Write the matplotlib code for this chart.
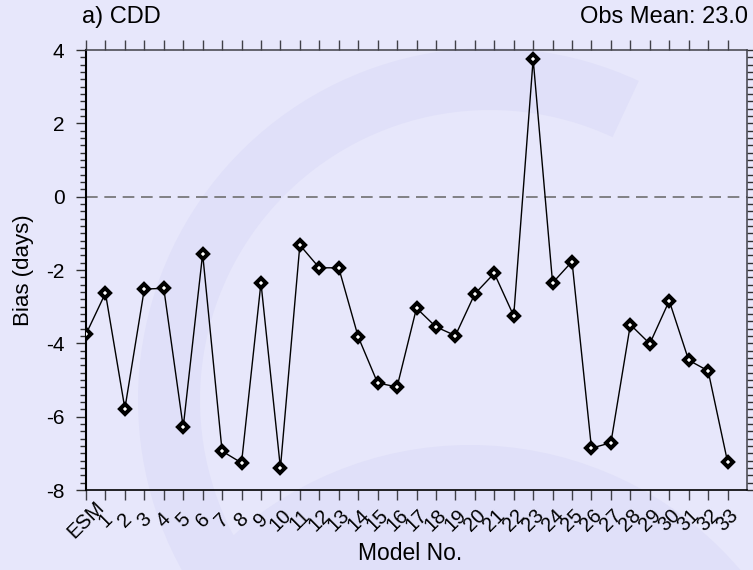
import numpy as np
import matplotlib
matplotlib.use('Agg')
import matplotlib.pyplot as plt
from matplotlib.ticker import MultipleLocator
from matplotlib.patches import Wedge, Circle
from matplotlib.transforms import IdentityTransform

plt.rcParams['font.family'] = ['Liberation Sans', 'DejaVu Sans']
plt.rcParams['axes.unicode_minus'] = False

# model labels and bias values (days)
models = ['ESM'] + [str(i) for i in range(1, 34)]
bias = [-3.75, -2.63, -5.78, -2.52, -2.50, -6.29, -1.56, -6.94, -7.26, -2.35,
        -7.40, -1.32, -1.94, -1.94, -3.82, -5.08, -5.19, -3.04, -3.55, -3.79,
        -2.65, -2.09, -3.25, 3.75, -2.35, -1.77, -6.86, -6.71, -3.49, -4.01,
        -2.84, -4.46, -4.75, -7.23]
obs_mean = 23.0

bg = '#e7e7fb'
shade = '#e0e0f9'
W, H = 753, 570
fig = plt.figure(figsize=(W / 100, H / 100), dpi=100, facecolor=bg)

# faint watermark in the background (pixel coords)
wm1 = Wedge((490, H - 400), 352, 65, 212, width=62, transform=IdentityTransform(),
            color=shade, lw=0, zorder=-10)
wm2 = Circle((470, H - 800), 355, transform=IdentityTransform(),
             color=shade, lw=0, zorder=-10)
fig.add_artist(wm1)
fig.add_artist(wm2)

ax = fig.add_axes([86 / W, 1 - 490 / H, 661 / W, 440 / H])
ax.patch.set_alpha(0)

x = np.arange(len(bias))
ax.axhline(0, color='#707070', lw=1.2, ls=(0, (7, 4)), zorder=1)
ax.plot(x, bias, color='black', lw=1, marker='D', ms=5.5, mfc='white',
        mec='black', mew=2.9, zorder=3)

ax.set_xlim(0, 34)
ax.set_ylim(-8, 4)
ax.set_xticks(x)
ax.set_xticklabels(models, rotation=45, ha='center', va='center',
                   rotation_mode='anchor', fontsize=14.5)
ax.yaxis.set_major_locator(MultipleLocator(2))
ax.yaxis.set_minor_locator(MultipleLocator(0.2))
ax.tick_params(axis='x', which='major', direction='out', length=7.5, width=1,
               color='#404048', top=True, bottom=True, pad=14)
ax.tick_params(axis='y', which='major', direction='out', length=7.5, width=1,
               color='#303030', left=True, right=True, labelsize=15, pad=8)
ax.tick_params(axis='y', which='minor', direction='out', length=4, width=1,
               color='#303030', left=True, right=True)
ax.spines['left'].set_linewidth(1.5)
ax.spines['bottom'].set_linewidth(1.2)
ax.spines['top'].set_linewidth(1.1)
ax.spines['top'].set_color('#404048')
ax.spines['right'].set_linewidth(1.1)
ax.spines['right'].set_color('#404048')

ax.set_ylabel('Bias (days)', fontsize=16, va='center')
ax.yaxis.set_label_coords((23 - 86) / 661, 0.5)
ax.set_xlabel('Model No.', fontsize=16.5, va='center')
ax.xaxis.set_label_coords(0.49, (490 - 553) / 440)
ax.text(-0.006, 1.075, 'a) CDD', transform=ax.transAxes, fontsize=17,
        ha='left', va='center')
ax.text(1.0015, 1.075, 'Obs Mean: %.1f' % obs_mean, transform=ax.transAxes,
        fontsize=17, ha='right', va='center')

fig.savefig('out.png', dpi=100, facecolor=bg)
